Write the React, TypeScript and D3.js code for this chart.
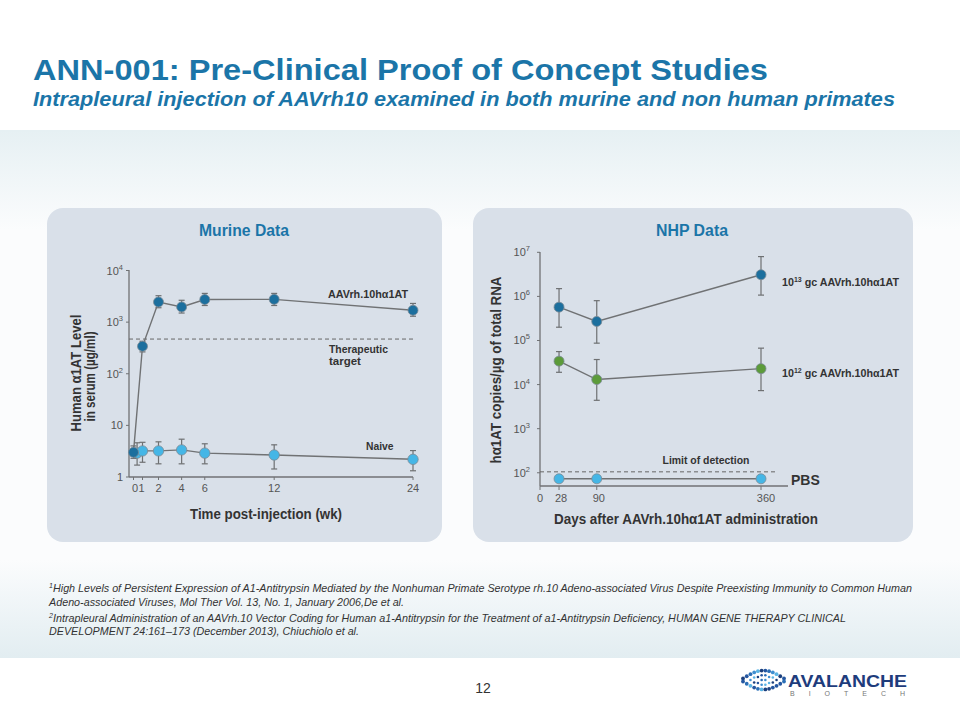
import React from "react";
import * as d3 from "d3";

// ---------- Data ----------
const murineTicksX = [0, 1, 2, 4, 6, 12, 24];
const murineTicksY = [1, 10, 100, 1000, 10000];
const aavWeeks = [0, 1, 2, 4, 6, 12, 24];
const aavValues = [3.0, 340, 2450, 1970, 2740, 2760, 1700];
const aavHigh = [4.0, 425, 3250, 2650, 3600, 3600, 2300];
const aavLow = [2.3, 265, 1900, 1500, 2100, 2100, 1300];
const naiveWeeks = [0.4, 1, 2, 4, 6, 12, 24];
const naiveValues = [2.9, 3.2, 3.2, 3.35, 2.9, 2.67, 2.2];
const naiveHigh = [4.6, 4.7, 4.8, 5.4, 4.4, 4.2, 3.25];
const naiveLow = [1.7, 1.93, 1.8, 1.8, 1.8, 1.43, 1.32];
const therapeuticTarget = 470;

const nhpTicksX = [0, 28, 90, 360];
const nhpTicksY = [100, 1000, 10000, 100000, 1000000, 10000000];
const nhpDays = [28, 90, 360];
const dose13Values = [5.7e5, 2.7e5, 3.1e6];
const dose13High = [1.5e6, 8.0e5, 8.0e6];
const dose13Low = [2.0e5, 8.7e4, 1.07e6];
const dose12Values = [3.4e4, 1.3e4, 2.3e4];
const dose12High = [5.6e4, 3.7e4, 6.7e4];
const dose12Low = [1.9e4, 4.4e3, 7.3e3];
const pbsValues = [73, 73, 73];
const limitOfDetection = 105;

const footnotes = [
  { sup: "1", lines: [
    "High Levels of Persistent Expression of A1-Antitrypsin Mediated by the Nonhuman Primate Serotype rh.10 Adeno-associated Virus Despite Preexisting Immunity to Common Human",
    "Adeno-associated Viruses, Mol Ther Vol. 13, No. 1, January 2006,De et al."] },
  { sup: "2", lines: [
    "Intrapleural Administration of an AAVrh.10 Vector Coding for Human a1-Antitrypsin for the Treatment of a1-Antitrypsin Deficiency, HUMAN GENE THERAPY CLINICAL",
    "DEVELOPMENT 24:161\u2013173 (December 2013), Chiuchiolo et al."] },
];

// ---------- Styles ----------
const FONT = "'Liberation Sans', Arial, Helvetica, sans-serif";
const BLUE_TITLE = "#1b75a8";
const DARK = "#1c6f9e";
const LIGHT = "#45b6e6";
const GREEN = "#5c9b3a";
const LINE = "#707274";
const PANEL = "#d9e0e9";
const TXT = "#333";

function pow10Label(v: number) {
  const e = Math.round(Math.log10(v));
  if (e === 0) return { base: "1", exp: null };
  if (e === 1) return { base: "10", exp: null };
  return { base: "10", exp: String(e) };
}

function Series({ xs, ys, hi, lo, x, y, color, r, cap }: any) {
  const line = d3.line<number>().x((_, i) => x(xs[i])).y((d) => y(d));
  return (
    <g>
      <path d={line(ys) || ""} fill="none" stroke={LINE} strokeWidth={1.4} />
      {ys.map((v: number, i: number) => {
        const cx = x(xs[i]);
        return (
          <g key={i}>
            {hi && (
              <g stroke="#6e7072" strokeWidth={1.2}>
                <line x1={cx} x2={cx} y1={y(hi[i])} y2={y(lo[i])} />
                <line x1={cx - cap} x2={cx + cap} y1={y(hi[i])} y2={y(hi[i])} />
                <line x1={cx - cap} x2={cx + cap} y1={y(lo[i])} y2={y(lo[i])} />
              </g>
            )}
            <circle cx={cx} cy={y(v)} r={r} fill={color} stroke="#7b8a96" strokeWidth={0.8} />
          </g>
        );
      })}
    </g>
  );
}

function LogYTicks({ ticks, y, axisX, labelX }: any) {
  return (
    <g>
      {ticks.map((t: number) => {
        const l = pow10Label(t);
        return (
          <g key={t}>
            <line x1={axisX - 3} x2={axisX} y1={y(t)} y2={y(t)} stroke={LINE} strokeWidth={1} />
            <text x={labelX} y={y(t) + 4} textAnchor="end" fontSize={11} fill="#555" fontFamily={FONT}>
              {l.base}
              {l.exp && <tspan dy={-5} fontSize={7.5}>{l.exp}</tspan>}
            </text>
          </g>
        );
      })}
    </g>
  );
}

function Logo() {
  const dots: { x: number; y: number; r: number; c: string }[] = [];
  const cols = 12;
  const palette = ["#1b3f7d", "#2456a0", "#2b6fb6", "#3f8fd0", "#5bb4e4"];
  for (let i = 0; i < cols; i++) {
    const t = i / (cols - 1);
    const x = 743 + t * 41;
    const h = 1.5 + 8 * Math.sin(Math.PI * t);
    const k = Math.max(1, Math.round(h / 2.6));
    for (let j = 0; j <= k; j++) {
      const yy = 680 - h + (2 * h * j) / k;
      const c = palette[(i + j) % palette.length];
      dots.push({ x, y: yy, r: j === 0 || j === k ? 1.9 : 1.3, c });
    }
  }
  return (
    <g>
      {dots.map((d, i) => (
        <circle key={i} cx={d.x} cy={d.y} r={d.r} fill={d.c} />
      ))}
      <text x={788} y={687} fontSize={17} fontWeight="bold" fill="#1e3c7c" fontFamily={FONT} textLength={119} lengthAdjust="spacingAndGlyphs">AVALANCHE</text>
      <text x={790} y={696} fontSize={7} fill="#777" fontFamily={FONT} textLength={115} lengthAdjust="spacing">BIOTECH</text>
    </g>
  );
}

export default function App() {
  // Murine scales
  const mx = d3.scaleLinear().domain([0, 1, 2, 24]).range([133.5, 142.5, 158.5, 413]);
  const my = d3.scaleLog().domain([1, 10000]).range([477, 270.5]);
  // NHP scales
  const nx = d3.scaleLinear().domain([0, 360]).range([542, 761]);
  const ny = d3.scaleLog().domain([Math.pow(10, 1.7), 1e7]).range([486, 252.3]);

  return (
    <div style={{ position: "absolute", left: 0, top: 0, width: 960, height: 720 }}>
      <svg width={960} height={720} viewBox="0 0 960 720" style={{ display: "block" }}>
        <defs>
          <linearGradient id="topBand" x1="0" y1="0" x2="0" y2="1">
            <stop offset="0" stopColor="#e6f0f3" />
            <stop offset="1" stopColor="#fbfcfd" />
          </linearGradient>
          <linearGradient id="botBand" x1="0" y1="0" x2="0" y2="1">
            <stop offset="0" stopColor="#fbfcfd" />
            <stop offset="1" stopColor="#e2edf1" />
          </linearGradient>
        </defs>
        <rect x={0} y={0} width={960} height={720} fill="#fff" />
        <rect x={0} y={130} width={960} height={100} fill="url(#topBand)" />
        <rect x={0} y={230} width={960} height={330} fill="#fbfcfd" />
        <rect x={0} y={560} width={960} height={98} fill="url(#botBand)" />

        {/* Header */}
        <text x={33} y={80} fontSize={30} fontWeight="bold" fill={BLUE_TITLE} fontFamily={FONT} textLength={735} lengthAdjust="spacingAndGlyphs">
          ANN-001: Pre-Clinical Proof of Concept Studies
        </text>
        <text x={33} y={106} fontSize={20} fontWeight="bold" fontStyle="italic" fill={BLUE_TITLE} fontFamily={FONT} textLength={862} lengthAdjust="spacingAndGlyphs">
          Intrapleural injection of AAVrh10 examined in both murine and non human primates
        </text>

        {/* Murine panel */}
        <rect x={47} y={208} width={395} height={334} rx={16} fill={PANEL} />
        <text x={244} y={236} textAnchor="middle" fontSize={16} fontWeight="bold" fill={BLUE_TITLE} fontFamily={FONT} textLength={90} lengthAdjust="spacingAndGlyphs">Murine Data</text>
        <line x1={129} x2={129} y1={270} y2={477} stroke={LINE} strokeWidth={1.3} />
        <line x1={129} x2={413} y1={477} y2={477} stroke={LINE} strokeWidth={1.3} />
        <LogYTicks ticks={murineTicksY} y={my} axisX={129} labelX={123} />
        {murineTicksX.map((t) => (
          <g key={t}>
            <line x1={mx(t)} x2={mx(t)} y1={477} y2={480} stroke={LINE} />
            <text x={mx(t) + (t === 0 ? 1.5 : t === 1 ? -1 : 0)} y={491.5} textAnchor="middle" fontSize={11} fill="#555" fontFamily={FONT}>{t}</text>
          </g>
        ))}
        <line x1={129} x2={413} y1={my(therapeuticTarget)} y2={my(therapeuticTarget)} stroke="#666" strokeWidth={1} strokeDasharray="4,3" />
        <Series xs={naiveWeeks} ys={naiveValues} hi={naiveHigh} lo={naiveLow} x={mx} y={my} color={LIGHT} r={5.2} cap={3} />
        <Series xs={aavWeeks} ys={aavValues} hi={aavHigh} lo={aavLow} x={mx} y={my} color={DARK} r={5} cap={3} />
        <text x={328} y={298} fontSize={11.5} fontWeight="bold" fill={TXT} fontFamily={FONT} textLength={80} lengthAdjust="spacingAndGlyphs">AAVrh.10hα1AT</text>
        <text x={329} y={353} fontSize={11.5} fontWeight="bold" fill={TXT} fontFamily={FONT} textLength={59} lengthAdjust="spacingAndGlyphs">Therapeutic</text>
        <text x={329} y={364.5} fontSize={11.5} fontWeight="bold" fill={TXT} fontFamily={FONT}>target</text>
        <text x={366} y={450} fontSize={11.5} fontWeight="bold" fill={TXT} fontFamily={FONT} textLength={27.5} lengthAdjust="spacingAndGlyphs">Naive</text>
        <g transform="translate(81,373) rotate(-90)">
          <text x={0} y={0} textAnchor="middle" fontSize={15} fontWeight="bold" fill={TXT} fontFamily={FONT} textLength={117} lengthAdjust="spacingAndGlyphs">Human α1AT Level</text>
        </g>
        <g transform="translate(95,376.5) rotate(-90)">
          <text x={0} y={0} textAnchor="middle" fontSize={15} fontWeight="bold" fill={TXT} fontFamily={FONT} textLength={90} lengthAdjust="spacingAndGlyphs">in serum (µg/ml)</text>
        </g>
        <text x={266} y={519} textAnchor="middle" fontSize={14} fontWeight="bold" fill={TXT} fontFamily={FONT} textLength={152} lengthAdjust="spacingAndGlyphs">Time post-injection (wk)</text>

        {/* NHP panel */}
        <rect x={473} y={208} width={440} height={334} rx={16} fill={PANEL} />
        <text x={692} y={236} textAnchor="middle" fontSize={16} fontWeight="bold" fill={BLUE_TITLE} fontFamily={FONT} textLength={72} lengthAdjust="spacingAndGlyphs">NHP Data</text>
        <line x1={540} x2={540} y1={252} y2={486} stroke={LINE} strokeWidth={1.3} />
        <line x1={540} x2={788} y1={486} y2={486} stroke={LINE} strokeWidth={1.3} />
        <LogYTicks ticks={nhpTicksY} y={ny} axisX={540} labelX={530} />
        {nhpTicksX.map((t) => (
          <g key={t}>
            <line x1={t === 0 ? 540 : nx(t)} x2={t === 0 ? 540 : nx(t)} y1={486} y2={490} stroke={LINE} />
            <text x={t === 0 ? 540 : nx(t) + (t === 360 ? 5 : 2)} y={502} textAnchor="middle" fontSize={11} fill="#555" fontFamily={FONT}>{t}</text>
          </g>
        ))}
        <line x1={540} x2={778} y1={ny(limitOfDetection)} y2={ny(limitOfDetection)} stroke="#666" strokeWidth={1} strokeDasharray="4,3" />
        <Series xs={nhpDays} ys={pbsValues} x={nx} y={ny} color={LIGHT} r={5} cap={3} />
        <Series xs={nhpDays} ys={dose12Values} hi={dose12High} lo={dose12Low} x={nx} y={ny} color={GREEN} r={5} cap={3} />
        <Series xs={nhpDays} ys={dose13Values} hi={dose13High} lo={dose13Low} x={nx} y={ny} color={DARK} r={5} cap={3} />
        <text x={782} y={286} fontSize={11.5} fontWeight="bold" fill={TXT} fontFamily={FONT} textLength={117} lengthAdjust="spacingAndGlyphs">
          10<tspan dy={-4} fontSize={7.5}>13</tspan><tspan dy={4}> gc AAVrh.10hα1AT</tspan>
        </text>
        <text x={782} y={377} fontSize={11.5} fontWeight="bold" fill={TXT} fontFamily={FONT} textLength={117} lengthAdjust="spacingAndGlyphs">
          10<tspan dy={-4} fontSize={7.5}>12</tspan><tspan dy={4}> gc AAVrh.10hα1AT</tspan>
        </text>
        <text x={706} y={464} textAnchor="middle" fontSize={11.5} fontWeight="bold" fill={TXT} fontFamily={FONT} textLength={87} lengthAdjust="spacingAndGlyphs">Limit of detection</text>
        <text x={791} y={484.5} fontSize={14} fontWeight="bold" fill={TXT} fontFamily={FONT}>PBS</text>
        <g transform="translate(501,370) rotate(-90)">
          <text x={0} y={0} textAnchor="middle" fontSize={14.5} fontWeight="bold" fill={TXT} fontFamily={FONT} textLength={187} lengthAdjust="spacingAndGlyphs">hα1AT copies/µg of total RNA</text>
        </g>
        <text x={686} y={524} textAnchor="middle" fontSize={14} fontWeight="bold" fill={TXT} fontFamily={FONT} textLength={264} lengthAdjust="spacingAndGlyphs">Days after AAVrh.10hα1AT administration</text>

        {/* Footnotes */}
        {footnotes.map((f, fi) => (
          <g key={fi} fontFamily={FONT} fontStyle="italic" fill="#333">
            <text x={49} y={588 + fi * 30} fontSize={7}>{f.sup}</text>
            <text x={53} y={592 + fi * 30} fontSize={11} textLength={fi === 0 ? 859 : 793} lengthAdjust="spacingAndGlyphs">{f.lines[0]}</text>
            <text x={49} y={605.5 + fi * 29} fontSize={11} textLength={fi === 0 ? 355 : 310} lengthAdjust="spacingAndGlyphs">{f.lines[1]}</text>
          </g>
        ))}

        {/* Footer */}
        <text x={483} y={693} textAnchor="middle" fontSize={14} fill="#333" fontFamily={FONT}>12</text>
        <Logo />
      </svg>
    </div>
  );
}
